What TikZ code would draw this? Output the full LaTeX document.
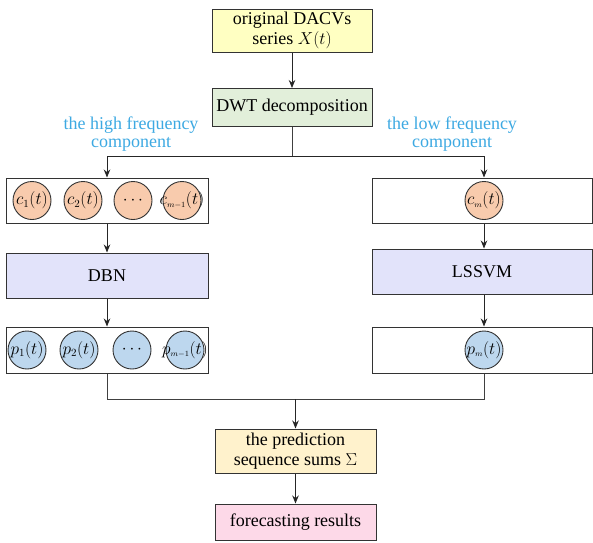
\documentclass[tikz,border=0pt]{standalone}
\usepackage{fontspec}
\setmainfont{Liberation Serif}
\usetikzlibrary{arrows.meta,positioning,calc}
\definecolor{srcyellow}{HTML}{FFFFC2}
\definecolor{dwtgreen}{HTML}{E2EFDA}
\definecolor{nnlav}{HTML}{E2E3FA}
\definecolor{corange}{HTML}{F8CBAD}
\definecolor{pblue}{HTML}{BDD7EE}
\definecolor{sumcream}{HTML}{FFF2CC}
\definecolor{outpink}{HTML}{FDD9E8}
\definecolor{lblblue}{HTML}{3DA9E2}
\tikzset{
  flow/.style={-{Stealth[length=8pt,width=6.5pt]},line width=1pt,draw=black!85},
  link/.style={line width=1pt,draw=black!75},
}
\begin{document}
\begin{tikzpicture}[x=1pt,y=-1pt,
   box/.style={draw=black!80,line width=1pt,inner sep=2pt,align=center,
     font=\fontsize{18}{20}\selectfont},
   row/.style={box,minimum height=45pt},
   comp/.style={circle,draw=black!80,line width=0.9pt,minimum size=38pt,inner sep=0pt,
     label={[font=\fontsize{16}{18}\selectfont,inner sep=0pt]center:#1}},
   freq/.style={align=center,text=lblblue,font=\fontsize{18}{18.5}\selectfont}]
  \useasboundingbox (0,0) rectangle (593,542);
  % main chain
  \node[box,fill=srcyellow,minimum width=160pt,minimum height=43pt] (src) at (292,30.5) {original DACVs\\series $X(t)$};
  \node[box,fill=dwtgreen,minimum width=160pt,minimum height=38pt] (dwt) at (292,107.5) {DWT decomposition};
  \node[freq] (hilbl) at (131,134) {the high frequency\\component};
  \node[freq] (lolbl) at (452,134) {the low frequency\\component};
  % high frequency branch
  \node[row,minimum width=202pt] (chigh) at (107,200.5) {};
  \node[row,fill=nnlav,minimum width=202pt] (dbn) at (107,275.5) {DBN};
  \node[row,minimum width=202pt,minimum height=46pt] (phigh) at (107,350) {};
  \foreach \n/\x/\t in {1/32/{$c_1(t)$},2/83/{$c_2(t)$},3/133/{$\cdots$},4/182/{$c_{\scriptscriptstyle m-1}(t)$}}
    \node[comp=\t,fill=corange] (c\n) at (\x,200.5) {};
  \foreach \n/\x/\t in {1/27/{$p_1(t)$},2/79/{$p_2(t)$},3/132/{$\cdots$},4/185/{$p_{\scriptscriptstyle m-1}(t)$}}
    \node[comp=\t,fill=pblue] (p\n) at (\x,350) {};
  % low frequency branch
  \node[row,minimum width=220pt] (clow) at (482,200.5) {};
  \node[row,fill=nnlav,minimum width=220pt] (lssvm) at (482,271.5) {LSSVM};
  \node[row,minimum width=220pt,minimum height=46pt] (plow) at (482,350) {};
  \node[comp={$c_{\scriptscriptstyle m}(t)$},fill=corange] (cm) at (484,200.5) {};
  \node[comp={$p_{\scriptscriptstyle m}(t)$},fill=pblue] (pm) at (484,350) {};
  % output
  \node[box,fill=sumcream,minimum width=161pt,minimum height=44pt] (sum) at (295.5,451) {the prediction\\sequence sums $\Sigma$};
  \node[box,fill=outpink,minimum width=161pt,minimum height=36pt] (res) at (295.5,522) {forecasting results};
  \coordinate (split) at (292,156);
  \coordinate (join) at (295.5,399);
  % connectors
  \draw[flow] (src) -- (dwt);
  \draw[link] (dwt.south) -- (split);
  \draw[flow] (split) -| (chigh.north);
  \draw[flow] (split) -| (cm |- clow.north);
  \draw[flow] (chigh) -- (dbn);
  \draw[flow] (dbn) -- (phigh);
  \draw[flow] (cm |- clow.south) -- (cm |- lssvm.north);
  \draw[flow] (cm |- lssvm.south) -- (cm |- plow.north);
  \draw[link] (phigh.south) |- (join) -| (pm |- plow.south);
  \draw[flow] (join) -- (sum);
  \draw[flow] (sum) -- (res);
\end{tikzpicture}
\end{document}
